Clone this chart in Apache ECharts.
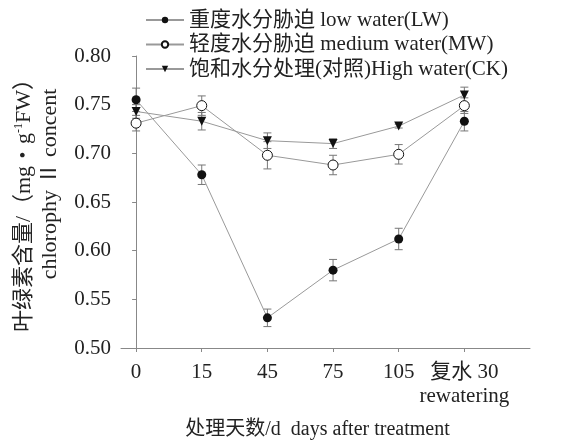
<!DOCTYPE html>
<html><head><meta charset="utf-8">
<script src="https://cdn.jsdelivr.net/npm/echarts@6/dist/echarts.min.js"></script>
<style>html,body{margin:0;padding:0;background:#fff}#c{width:567px;height:443px}</style>
</head><body><div id="c"></div>
<script>
var categories = ['0', '15', '45', '75', '105', '复水 30'];
var lastSubLabel = 'rewatering';
var seriesNames = ['重度水分胁迫 low water(LW)', '轻度水分胁迫 medium water(MW)', '饱和水分处理(对照)High water(CK)'];
var lwValues = [0.755, 0.678, 0.531, 0.580, 0.612, 0.733];
var lwErrors = [0.012, 0.010, 0.009, 0.011, 0.011, 0.010];
var mwValues = [0.731, 0.749, 0.698, 0.688, 0.699, 0.749];
var mwErrors = [0.008, 0.010, 0.014, 0.010, 0.010, 0.008];
var ckValues = [0.743, 0.733, 0.713, 0.710, 0.728, 0.760];
var ckErrors = [0.007, 0.009, 0.008, 0.005, 0.002, 0.008];

var FONT = '"Liberation Serif", "Noto Sans CJK SC", serif';
var chart = echarts.init(document.getElementById('c'));

function pts(vals){ return vals.map(function(v,i){ return [i, v]; }); }
function errs(vals, e){ return vals.map(function(v,i){ return [i, v, e[i]]; }); }
function renderErr(params, api){
  var x = api.value(0), y = api.value(1), e = api.value(2);
  var t = api.coord([x, y + e]), b = api.coord([x, y - e]);
  var hw = 4, st = {stroke:'#777', lineWidth:1};
  return {type:'group', children:[
    {type:'line', shape:{x1:t[0], y1:t[1], x2:b[0], y2:b[1]}, style:st},
    {type:'line', shape:{x1:t[0]-hw, y1:t[1], x2:t[0]+hw, y2:t[1]}, style:st},
    {type:'line', shape:{x1:b[0]-hw, y1:b[1], x2:b[0]+hw, y2:b[1]}, style:st}
  ]};
}
function lineSeries(name, vals, symbol, size, fill, rot){
  return {
    name: name, type:'line', data: pts(vals), symbol: symbol, symbolSize: size,
    symbolRotate: rot || 0, z: 5,
    lineStyle:{color:'#999', width:1},
    itemStyle:{color: fill, borderColor:'#111', borderWidth: fill === '#fff' ? 1 : 0},
    emphasis:{disabled:true}, animation:false
  };
}
function errSeries(vals, e){
  return {type:'custom', renderItem: renderErr, data: errs(vals, e), z: 3, silent:true, animation:false};
}

chart.setOption({
  animation:false,
  textStyle:{fontFamily: FONT},
  grid:{left:121, right:37, top:56, bottom:95, containLabel:false, outerBoundsMode:'none'},
  legend:{
    orient:'vertical', left:140, top:4, itemWidth:38, itemHeight:8, itemGap:2.5,
    textStyle:{fontFamily:FONT, fontSize:21, color:'#222', lineHeight:22},
    data: seriesNames
  },
  xAxis:{
    type:'value', min:-0.23, max:6,
    splitLine:{show:false},
    axisLine:{show:true, lineStyle:{color:'#888'}},
    axisTick:{show:true, length:4, customValues:[0,1,2,3,4,5], lineStyle:{color:'#888'}},
    axisLabel:{customValues:[0,1,2,3,4,5], hideOverlap:false, showMinLabel:true, showMaxLabel:true,
      fontFamily:FONT, fontSize:21, color:'#222', margin:12, lineHeight:24,
      verticalAlign:'top',
      formatter:function(v){
        var i = Math.round(v);
        return i === 5 ? categories[i] + '\n' + lastSubLabel : categories[i];
      }},
    name:'处理天数/d  days after treatment', nameLocation:'middle', nameGap:72,
    nameTextStyle:{fontFamily:FONT, fontSize:20, color:'#222', padding:[0,16,0,0]}
  },
  yAxis:{
    type:'value', min:0.5, max:0.8, interval:0.05,
    splitLine:{show:false},
    axisLine:{show:true, lineStyle:{color:'#888'}},
    axisTick:{show:true, length:4, inside:false, lineStyle:{color:'#888'}},
    axisLabel:{fontFamily:FONT, fontSize:21, color:'#222', margin:10,
      formatter:function(v){ return v.toFixed(2); }}
  },
  graphic:[
    {type:'text', x:24, y:200, rotation:Math.PI/2,
      style:{text:'{a|叶绿素含量/（mg・g}{s|-1}{a|FW）}', textAlign:'center', textVerticalAlign:'middle',
        rich:{a:{fontFamily:FONT, fontSize:22, fill:'#222'}, s:{fontFamily:FONT, fontSize:12, fill:'#222', verticalAlign:'top', padding:[0,0,8,0]}}}},
    {type:'text', x:50, y:184, rotation:Math.PI/2,
      style:{text:'chlorophy Ⅱ concent', textAlign:'center', textVerticalAlign:'middle',
        fontFamily:FONT, fontSize:22, fill:'#222'}}
  ],
  series:[
    errSeries(lwValues, lwErrors),
    errSeries(mwValues, mwErrors),
    errSeries(ckValues, ckErrors),
    lineSeries(seriesNames[0], lwValues, 'circle', 9, '#111'),
    lineSeries(seriesNames[1], mwValues, 'circle', 10, '#fff'),
    lineSeries(seriesNames[2], ckValues, 'triangle', 9, '#111', 180)
  ]
});
</script></body></html>
